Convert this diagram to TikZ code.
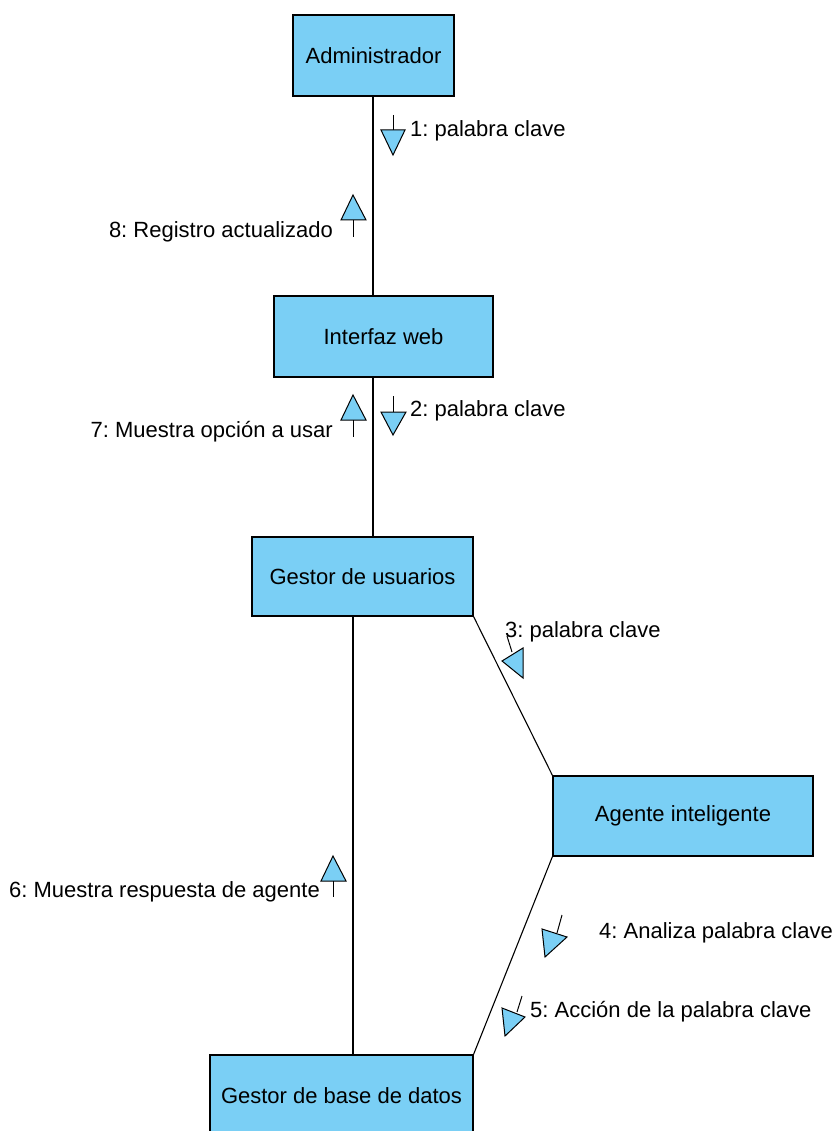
\documentclass[tikz,border=0pt]{standalone}
\usepackage{fontspec}
\setmainfont{Liberation Sans}
\frenchspacing
\definecolor{boxblue}{RGB}{122,207,245}
\begin{document}
\begin{tikzpicture}[x=1pt,y=-1pt,
  box/.style={draw=black, line width=1.1pt, fill=boxblue, rectangle, inner sep=0pt, font=\fontsize{22}{26}\selectfont},
  conn/.style={line width=1.1pt, black},
  msg/.style={draw=black, line width=1pt, fill=boxblue, line join=miter},
  stem/.style={line width=1pt, black},
  lbl/.style={inner sep=0pt, font=\fontsize{22}{26}\selectfont}]
\useasboundingbox (0,0) rectangle (835,1131);
% boxes
\node[box, minimum width=161, minimum height=81] (admin) at (373.5,55.5) {Administrador};
\node[box, minimum width=219, minimum height=81] (iweb) at (383.5,336.5) {Interfaz web};
\node[box, minimum width=221, minimum height=79] (gu) at (362.5,576.5) {Gestor de usuarios};
\node[box, minimum width=260, minimum height=80] (agent) at (683,816) {Agente inteligente};
\node[box, minimum width=263, minimum height=81] (bd) at (341.5,1095.5) {Gestor de base de datos};
% connectors
\draw[conn] ([xshift=-0.5pt]admin.south) -- ([xshift=-10.5pt]iweb.north);
\draw[conn] ([xshift=-10.5pt]iweb.south) -- ([xshift=10.5pt]gu.north);
\draw[conn] (gu.south east) -- (agent.north west);
\draw[conn] (agent.south west) -- (bd.north east);
\draw[conn] ([xshift=-9.5pt]gu.south) -- ([xshift=11.5pt]bd.north);
% message 1
\draw[stem] (393,115) -- (393,130);
\draw[msg] (381,130) -- (405,130) -- (393,155) -- cycle;
\node[lbl, anchor=west] (l1) at (410,131) {1: palabra clave};
% message 8
\draw[msg] (353,195) -- (341,220) -- (366,220) -- cycle;
\draw[stem] (353,220) -- (353,237);
\node[lbl, anchor=east] (l8) at (333,232) {8: Registro actualizado};
% message 2
\draw[stem] (393,396) -- (393,412);
\draw[msg] (381,412) -- (406,412) -- (393,435) -- cycle;
\node[lbl, anchor=west] (l2) at (410,411) {2: palabra clave};
% message 7
\draw[msg] (353,395) -- (341,420) -- (366,420) -- cycle;
\draw[stem] (353,420) -- (353,437);
\node[lbl, anchor=east] (l7) at (333,432) {7: Muestra opción a usar};
% message 3
\draw[stem] (507,636) -- (512,652);
\draw[msg] (502,661) -- (523,648) -- (523,678) -- cycle;
\node[lbl, anchor=west] (l3) at (505,632) {3: palabra clave};
% message 4
\draw[stem] (562,915) -- (557,933);
\draw[msg] (542,929) -- (567,937) -- (545,957) -- cycle;
\node[lbl, anchor=west] (l4) at (599,933) {4: Analiza palabra clave};
% message 5
\draw[stem] (522,996) -- (517,1012);
\draw[msg] (502,1008) -- (525,1017) -- (505,1036) -- cycle;
\node[lbl, anchor=west] (l5) at (530,1012) {5: Acción de la palabra clave};
% message 6
\draw[msg] (333,856) -- (321,881) -- (346,881) -- cycle;
\draw[stem] (333,881) -- (333,897);
\node[lbl, anchor=east] (l6) at (320,892) {6: Muestra respuesta de agente};
\end{tikzpicture}
\end{document}
